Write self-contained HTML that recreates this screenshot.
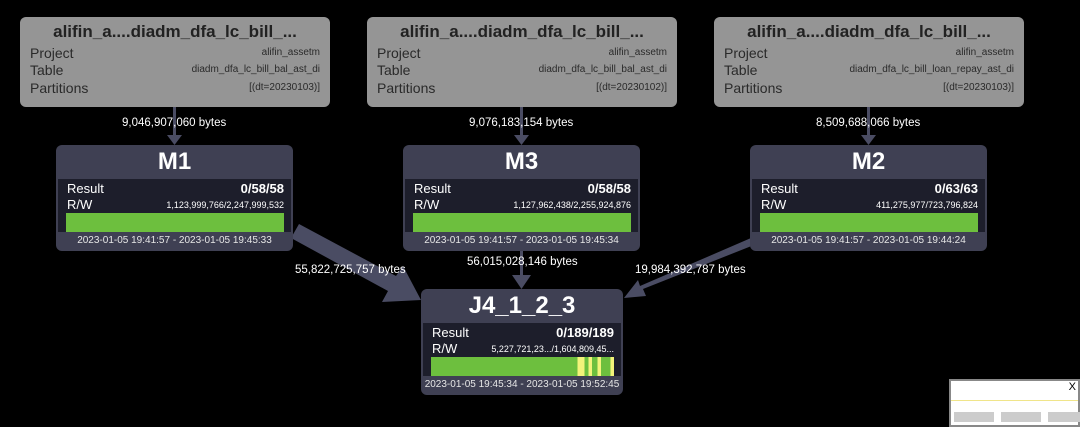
<!DOCTYPE html>
<html><head><meta charset="utf-8"><style>
*{margin:0;padding:0;box-sizing:border-box}
body{width:1080px;height:427px;background:#000;position:relative;overflow:hidden;font-family:"Liberation Sans",Arial,sans-serif}
.src{position:absolute;top:17px;width:310px;height:90px;background:#959595;border-radius:6px;color:#1a1a1a}
.src .t{text-align:center;font-weight:bold;font-size:17px;margin-top:5px;color:#222}
.src .r{position:absolute;left:10px;right:10px;font-size:14px;color:#2a2a2a}
.src .r span{position:absolute;right:0;top:2px;font-size:10px}
.node{position:absolute;width:237px;height:106px;background:#3f4053;border-radius:6px;color:#fff}
.node .t{text-align:center;font-weight:bold;font-size:24px;margin-top:3px}
.node .in{position:absolute;left:2px;right:2px;top:34px;height:53px;background:#1d1e2b}
.node .l{position:absolute;left:9px;font-size:13px}
.node .v{position:absolute;right:7px;font-size:13px}
.node .bar{position:absolute;left:8px;right:7px;top:34px;height:19px;background:#6dbf3e}
.node .d{position:absolute;left:0;right:0;top:90px;text-align:center;font-size:10px;color:#e6e6e6}
.lbl{position:absolute;color:#fff;font-size:11.5px;white-space:nowrap}
</style></head><body>
<svg width="1080" height="427" style="position:absolute;left:0;top:0">
<g fill="#4a4c63" stroke="none">
<rect x="173" y="107" width="3" height="30"/><polygon points="167,135 182,135 174.5,145"/>
<rect x="520" y="107" width="3" height="30"/><polygon points="514,135 529,135 521.5,145"/>
<rect x="867" y="107" width="3" height="30"/><polygon points="861,135 876,135 868.5,145"/>
<polygon points="291,238 299,224 396,276 403,266 421,300 382,302 388,291"/>
<rect x="520" y="251" width="3" height="26"/><polygon points="512,275 531,275 521.5,289"/>
<polygon points="751,238 754,245 643,289 646,296 624,298 638,280 640,286"/>
</g></svg>

<div class="src" style="left:20px"><div class="t">alifin_a....diadm_dfa_lc_bill_...</div>
<div class="r" style="top:28px">Project<span>alifin_assetm</span></div>
<div class="r" style="top:45px">Table<span>diadm_dfa_lc_bill_bal_ast_di</span></div>
<div class="r" style="top:63px">Partitions<span>[(dt=20230103)]</span></div></div>
<div class="src" style="left:367px"><div class="t">alifin_a....diadm_dfa_lc_bill_...</div>
<div class="r" style="top:28px">Project<span>alifin_assetm</span></div>
<div class="r" style="top:45px">Table<span>diadm_dfa_lc_bill_bal_ast_di</span></div>
<div class="r" style="top:63px">Partitions<span>[(dt=20230102)]</span></div></div>
<div class="src" style="left:714px"><div class="t">alifin_a....diadm_dfa_lc_bill_...</div>
<div class="r" style="top:28px">Project<span>alifin_assetm</span></div>
<div class="r" style="top:45px">Table<span>diadm_dfa_lc_bill_loan_repay_ast_di</span></div>
<div class="r" style="top:63px">Partitions<span>[(dt=20230103)]</span></div></div>

<div class="lbl" style="left:122px;top:117px">9,046,907,060 bytes</div>
<div class="lbl" style="left:469px;top:117px">9,076,183,154 bytes</div>
<div class="lbl" style="left:816px;top:117px">8,509,688,066 bytes</div>

<div class="node" style="left:56px;top:145px"><div class="t">M1</div><div class="in">
<div class="l" style="top:2px">Result</div><div class="v" style="top:2px;font-weight:bold">0/58/58</div>
<div class="l" style="top:18px">R/W</div><div class="v" style="top:21px;font-size:9px">1,123,999,766/2,247,999,532</div>
<div class="bar"></div></div><div class="d">2023-01-05 19:41:57 - 2023-01-05 19:45:33</div></div>

<div class="node" style="left:403px;top:145px"><div class="t">M3</div><div class="in">
<div class="l" style="top:2px">Result</div><div class="v" style="top:2px;font-weight:bold">0/58/58</div>
<div class="l" style="top:18px">R/W</div><div class="v" style="top:21px;font-size:9px">1,127,962,438/2,255,924,876</div>
<div class="bar"></div></div><div class="d">2023-01-05 19:41:57 - 2023-01-05 19:45:34</div></div>

<div class="node" style="left:750px;top:145px"><div class="t">M2</div><div class="in">
<div class="l" style="top:2px">Result</div><div class="v" style="top:2px;font-weight:bold">0/63/63</div>
<div class="l" style="top:18px">R/W</div><div class="v" style="top:21px;font-size:9px">411,275,977/723,796,824</div>
<div class="bar"></div></div><div class="d">2023-01-05 19:41:57 - 2023-01-05 19:44:24</div></div>

<div class="lbl" style="left:295px;top:264px">55,822,725,757 bytes</div>
<div class="lbl" style="left:467px;top:256px">56,015,028,146 bytes</div>
<div class="lbl" style="left:635px;top:264px">19,984,392,787 bytes</div>

<div class="node" style="left:421px;top:289px;width:202px"><div class="t">J4_1_2_3</div><div class="in">
<div class="l" style="top:2px">Result</div><div class="v" style="top:2px;font-weight:bold">0/189/189</div>
<div class="l" style="top:18px">R/W</div><div class="v" style="top:21px;font-size:9px">5,227,721,23.../1,604,809,45...</div>
<div class="bar" style="background:linear-gradient(90deg,#6dbf3e 0,#6dbf3e 80%,#f3f37a 80%,#f3f37a 84%,#6dbf3e 84%,#6dbf3e 86%,#f3f37a 86%,#f3f37a 88%,#6dbf3e 88%,#6dbf3e 91%,#f3f37a 91%,#f3f37a 93%,#6dbf3e 93%,#6dbf3e 98%,#f3f37a 98%)"></div></div>
<div class="d">2023-01-05 19:45:34 - 2023-01-05 19:52:45</div></div>

<div style="position:absolute;left:949px;top:379px;width:131px;height:48px;background:#fff;border:2px solid #888">
<div style="position:absolute;left:0;right:0;top:19px;height:1px;background:#f0e58a"></div>
<div style="position:absolute;right:2px;top:0;font-size:11px;color:#000">X</div>
<div style="position:absolute;left:3px;top:31px;width:40px;height:10px;background:#ccc"></div>
<div style="position:absolute;left:50px;top:31px;width:40px;height:10px;background:#ccc"></div>
<div style="position:absolute;left:97px;top:31px;width:40px;height:10px;background:#ccc"></div>
</div>
</body></html>
